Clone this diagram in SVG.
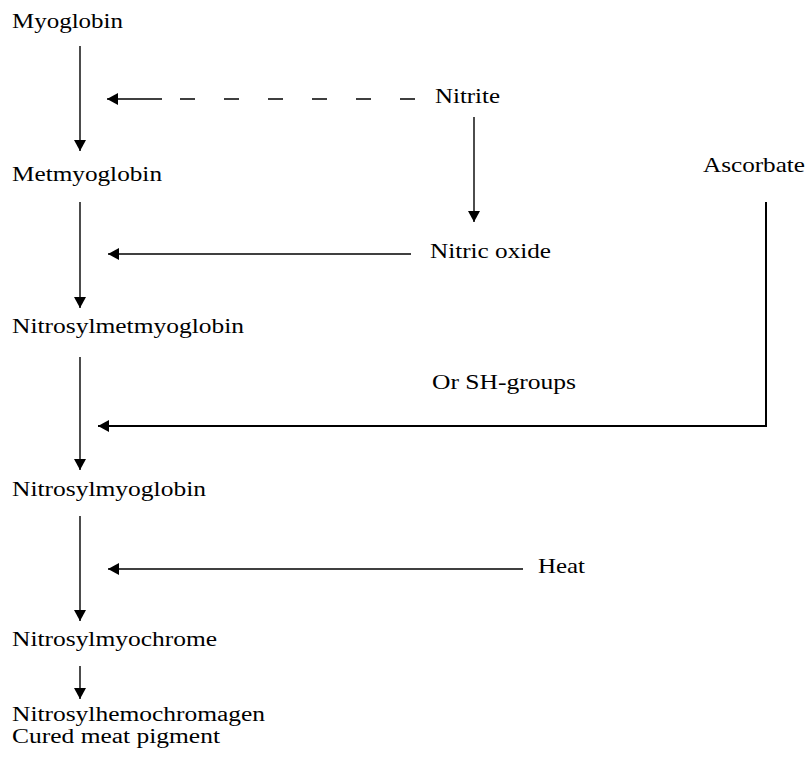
<svg xmlns="http://www.w3.org/2000/svg" width="808" height="761" viewBox="0 0 808 761">
<style>
text { font-family: "Liberation Serif", "Times New Roman", serif; font-size: 22px; fill: #000; }
.sm { font-size: 20px; }
.ln { stroke: #000; stroke-width: 1.4; fill: none; }
.thick { stroke: #000; stroke-width: 2; fill: none; }
.dash { stroke-dasharray: 15 29; }
</style>
<defs>
<marker id="ah" markerUnits="userSpaceOnUse" markerWidth="12" markerHeight="12" refX="11" refY="6" orient="auto">
<path d="M0,0 L11,6 L0,12 Z" fill="#000"/>
</marker>
</defs>
<rect width="808" height="761" fill="#fff"/>
<g id="connectors">
<line class="ln" x1="80" y1="46" x2="80" y2="151" marker-end="url(#ah)"/>
<line class="ln" x1="162" y1="99" x2="107" y2="99" marker-end="url(#ah)"/>
<path class="ln dash" d="M415,99 H180"/>
<line class="ln" x1="474" y1="117" x2="474" y2="222" marker-end="url(#ah)"/>
<line class="ln" x1="80" y1="202" x2="80" y2="308" marker-end="url(#ah)"/>
<line class="ln" x1="411" y1="254" x2="108" y2="254" marker-end="url(#ah)"/>
<line class="ln" x1="80" y1="357" x2="80" y2="470" marker-end="url(#ah)"/>
<polyline class="thick" points="766,202 766,426 98,426" marker-end="url(#ah)"/>
<line class="ln" x1="80" y1="516" x2="80" y2="621" marker-end="url(#ah)"/>
<line class="ln" x1="523" y1="569" x2="108" y2="569" marker-end="url(#ah)"/>
<line class="ln" x1="80" y1="666" x2="80" y2="699" marker-end="url(#ah)"/>
</g>
<g id="myoglobin"><text x="12" y="28" textLength="111" lengthAdjust="spacingAndGlyphs">Myoglobin</text></g>
<g id="metmyoglobin"><text x="12" y="181" textLength="150" lengthAdjust="spacingAndGlyphs">Metmyoglobin</text></g>
<g id="nitrosylmetmyoglobin"><text x="12" y="333" textLength="232" lengthAdjust="spacingAndGlyphs">Nitrosylmetmyoglobin</text></g>
<g id="nitrosylmyoglobin"><text x="12" y="496" textLength="194" lengthAdjust="spacingAndGlyphs">Nitrosylmyoglobin</text></g>
<g id="nitrosylmyochrome"><text x="12" y="646" textLength="205" lengthAdjust="spacingAndGlyphs">Nitrosylmyochrome</text></g>
<g id="nitrosylhemochromagen">
<text class="sm" x="12" y="721" textLength="253" lengthAdjust="spacingAndGlyphs">Nitrosylhemochromagen</text>
<text class="sm" x="12" y="743" textLength="208" lengthAdjust="spacingAndGlyphs">Cured meat pigment</text>
</g>
<g id="nitrite"><text x="435" y="103" textLength="65" lengthAdjust="spacingAndGlyphs">Nitrite</text></g>
<g id="nitric-oxide"><text x="430" y="258" textLength="121" lengthAdjust="spacingAndGlyphs">Nitric oxide</text></g>
<g id="ascorbate"><text x="703" y="172" textLength="102" lengthAdjust="spacingAndGlyphs">Ascorbate</text></g>
<g id="sh-groups"><text x="432" y="389" textLength="144" lengthAdjust="spacingAndGlyphs">Or SH-groups</text></g>
<g id="heat"><text x="538" y="573" textLength="47" lengthAdjust="spacingAndGlyphs">Heat</text></g>
</svg>
